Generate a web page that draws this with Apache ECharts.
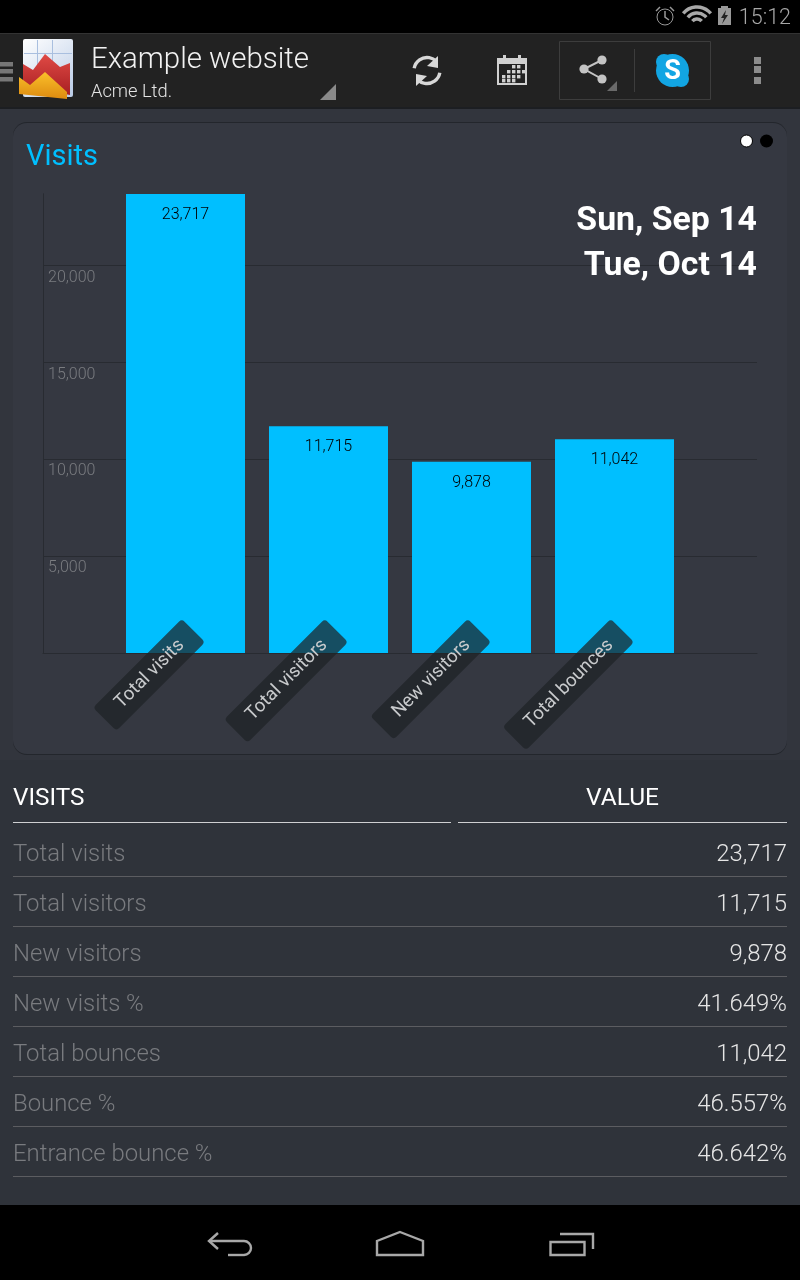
<!DOCTYPE html>
<html>
<head>
<meta charset="utf-8">
<title>Visits</title>
<script src="https://cdn.jsdelivr.net/npm/echarts@6/dist/echarts.min.js"></script>
<style>
html,body{margin:0;padding:0;background:#2f333a;}
#main{width:800px;height:1280px;}
</style>
</head>
<body>
<div id="main"></div>
<script>
var categories = ['Total visits', 'Total visitors', 'New visitors', 'Total bounces'];
var visitValues = [23717, 11715, 9878, 11042];
var tableLabels = ['Total visits', 'Total visitors', 'New visitors', 'New visits %', 'Total bounces', 'Bounce %', 'Entrance bounce %'];
var tableValues = ['23,717', '11,715', '9,878', '41.649%', '11,042', '46.557%', '46.642%'];
var dateLines = ['Sun, Sep 14', 'Tue, Oct 14'];

var FONT = 'Roboto, sans-serif';
var maxValue = Math.max.apply(null, visitValues);

function txt(text, x, y, size, fill, weight, align) {
    return {
        type: 'text', z: 1,
        style: {
            text: text, x: x, y: y, fill: fill,
            font: (weight || 400) + ' ' + size + 'px ' + FONT,
            textAlign: align || 'left', textVerticalAlign: 'middle'
        }
    };
}
function box(x, y, w, h, fill, r, z) {
    return { type: 'rect', z: z === undefined ? -1 : z, shape: { x: x, y: y, width: w, height: h, r: r || 0 }, style: { fill: fill } };
}
function poly(points, fill) {
    return { type: 'polygon', z: 1, shape: { points: points }, style: { fill: fill } };
}
function pline(points, color, width) {
    return { type: 'polyline', z: 1, shape: { points: points }, style: { stroke: color, lineWidth: width, fill: 'none' } };
}
function arc(cx, cy, r, a0, a1, color, width) {
    return {
        type: 'arc', z: 1,
        shape: { cx: cx, cy: cy, r: r, startAngle: a0 * Math.PI / 180, endAngle: a1 * Math.PI / 180 },
        style: { stroke: color, lineWidth: width, fill: 'none' }
    };
}
function dot(cx, cy, r, fill, stroke) {
    return { type: 'circle', z: 1, shape: { cx: cx, cy: cy, r: r }, style: { fill: fill, stroke: stroke || 'none', lineWidth: 1 } };
}
function square(x, y, w, fill) {
    return box(x, y, w, w, fill, 0, 1);
}

var graphics = [];

// screen + bars
graphics.push(box(0, 109, 800, 651, '#32353d'));
graphics.push(box(0, 0, 800, 33, '#000000'));
graphics.push(box(0, 33, 800, 74, '#222222'));
graphics.push(box(0, 33, 800, 1, '#333333'));
graphics.push(box(0, 107, 800, 2, '#1c1e22'));
graphics.push(box(0, 1205, 800, 75, '#000000'));

// card
graphics.push(box(13, 122, 774, 633, '#23262c', 14));
graphics.push(box(13, 123, 774, 631, '#353841', 14));

// status bar
graphics.push(dot(665, 17, 8, 'none', '#999999'));
graphics.push(pline([[665, 11], [665, 17], [669, 20]], '#999999', 1.5));
graphics.push(pline([[656, 11], [660, 7]], '#999999', 1.5));
graphics.push(pline([[670, 7], [674, 11]], '#999999', 1.5));
[6, 12, 18].forEach(function (r) {
    graphics.push(arc(697, 25, r, 220, 320, '#a8a8a8', 3.4));
});
graphics.push(box(721, 6, 7, 2, '#999999', 0, 1));
graphics.push(poly([[718, 8], [731, 8], [731, 25], [718, 25]], '#999999'));
graphics.push(poly([[726, 10], [721, 18], [724, 18], [722, 24], [728, 15], [725, 15]], '#222222'));
graphics.push(txt('15:12', 791, 19, 21.5, '#a8a8a8', 300, 'right'));

// action bar: drawer, logo, titles
graphics.push(box(0, 62, 13, 4.5, '#777777', 0, 1));
graphics.push(box(0, 69, 13, 4.5, '#777777', 0, 1));
graphics.push(box(0, 77, 13, 4.5, '#777777', 0, 1));

graphics.push({
    type: 'rect', z: 1, shape: { x: 23, y: 39, width: 50, height: 58, r: 2 },
    style: { fill: { type: 'linear', x: 0, y: 0, x2: 1, y2: 1, colorStops: [{ offset: 0, color: '#ffffff' }, { offset: 1, color: '#b9cbe6' }] } }
});
graphics.push(box(37, 40, 1, 25, '#a9bfdf', 0, 1));
graphics.push(box(52, 40, 1, 25, '#a9bfdf', 0, 1));
graphics.push(box(24, 53, 48, 1, '#a9bfdf', 0, 1));
graphics.push({
    type: 'polygon', z: 1, shape: { points: [[23, 64], [33, 70], [45, 54], [60, 67], [70, 63], [70, 95], [23, 85]] },
    style: { fill: { type: 'linear', x: 0, y: 0, x2: 0, y2: 1, colorStops: [{ offset: 0, color: '#e04a45' }, { offset: 1, color: '#a81f22' }] } }
});
graphics.push({
    type: 'polygon', z: 1, shape: { points: [[19, 77], [30, 85], [45, 72], [67, 92], [67, 99], [19, 94]] },
    style: { fill: { type: 'linear', x: 0, y: 0, x2: 0, y2: 1, colorStops: [{ offset: 0, color: '#fbc02a' }, { offset: 1, color: '#dc8a10' }] } }
});

graphics.push(txt('Example website', 91, 61, 29.4, '#f2f2f2', 300));
graphics.push(txt('Acme Ltd.', 91, 92, 18.3, '#e4e4e4', 300));
graphics.push(poly([[320, 100], [336, 100], [336, 84]], '#8a8a8a'));

// refresh
graphics.push(arc(427, 70.5, 13, 190, 315, '#d8d8d8', 3.4));
graphics.push(arc(427, 70.5, 13, 10, 135, '#d8d8d8', 3.4));
graphics.push(poly([[438, 56], [438, 68], [427, 66]], '#d8d8d8'));
graphics.push(poly([[416, 86], [416, 74], [427, 76]], '#d8d8d8'));

// calendar
graphics.push({ type: 'rect', z: 1, shape: { x: 498, y: 59, width: 28, height: 25 }, style: { fill: 'none', stroke: '#d0d0d0', lineWidth: 2 } });
graphics.push(box(497, 59, 30, 5, '#d0d0d0', 0, 1));
graphics.push(box(503, 55, 3, 6, '#d0d0d0', 0, 1));
graphics.push(box(518, 55, 3, 6, '#d0d0d0', 0, 1));
[[512, 65], [517, 65], [507, 70], [512, 70], [517, 70], [522, 70], [502, 75], [507, 75], [512, 75], [517, 75], [502, 79], [507, 79], [512, 79]].forEach(function (p) {
    graphics.push(square(p[0], p[1], 3.4, '#d0d0d0'));
});

// share group
graphics.push({ type: 'rect', z: 1, shape: { x: 559.5, y: 41.5, width: 151, height: 58 }, style: { fill: 'none', stroke: '#3d3d3d', lineWidth: 1 } });
graphics.push(pline([[602, 60], [584, 69], [602, 79]], '#c4c4c4', 2));
graphics.push(dot(602, 60, 4.6, '#c4c4c4'));
graphics.push(dot(584, 69, 4.6, '#c4c4c4'));
graphics.push(dot(602, 79, 4.6, '#c4c4c4'));
graphics.push(poly([[607, 91], [617, 91], [617, 81]], '#6a6a6a'));
graphics.push(box(634, 49, 1, 43, '#3d3d3d', 0, 1));
graphics.push(dot(664, 62, 8, '#12a5e3'));
graphics.push(dot(681, 79, 8, '#12a5e3'));
graphics.push(dot(672.5, 70.5, 16.5, '#12a5e3'));
graphics.push(txt('S', 672.5, 72, 27, '#ffffff', 700, 'center'));

// overflow dots
graphics.push(square(754, 57, 7, '#8c8c8c'));
graphics.push(square(754, 66, 7, '#8c8c8c'));
graphics.push(square(754, 77, 7, '#8c8c8c'));

// pager dots
graphics.push(dot(746.5, 141, 6, '#ffffff', '#000000'));
graphics.push(dot(766.5, 141, 6.5, '#000000'));

// dates
graphics.push(txt(dateLines[0], 757, 221.5, 33.8, '#ffffff', 700, 'right'));
graphics.push(txt(dateLines[1], 757, 266.5, 33.8, '#ffffff', 700, 'right'));

// table
graphics.push(txt('VISITS', 13, 798.5, 24.3, '#ffffff', 400));
graphics.push(txt('VALUE', 622.5, 798.5, 24.5, '#ffffff', 400, 'center'));
graphics.push(box(13, 822, 438, 1, '#cfd0d2', 0, 0));
graphics.push(box(458, 822, 329, 1, '#cfd0d2', 0, 0));
tableLabels.forEach(function (label, i) {
    var y = 853 + i * 50;
    graphics.push(txt(label, 13, y + 2, 23.9, '#797b7f', 300));
    graphics.push(txt(tableValues[i], 787, y + 2, 23.9, '#e6e6e6', 300, 'right'));
    graphics.push(box(13, y + 23, 774, 1, '#5c5d61', 0, 0));
});

// nav bar
graphics.push(pline([[218, 1233], [209, 1241], [218, 1249]], '#a8a8a8', 2.4));
graphics.push(pline([[209, 1241], [244, 1241]], '#a8a8a8', 2.4));
graphics.push(arc(244, 1248, 7, -90, 90, '#a8a8a8', 2.4));
graphics.push(pline([[244, 1255], [228, 1255]], '#a8a8a8', 2.4));
graphics.push({ type: 'polygon', z: 1, shape: { points: [[400, 1232], [423, 1241], [423, 1255], [377, 1255], [377, 1241]] }, style: { fill: 'none', stroke: '#a8a8a8', lineWidth: 2.4 } });
graphics.push({ type: 'rect', z: 1, shape: { x: 550.5, y: 1242, width: 34, height: 13 }, style: { fill: 'none', stroke: '#a8a8a8', lineWidth: 2.4 } });
graphics.push(pline([[560, 1234], [593, 1234], [593, 1249]], '#a8a8a8', 2.4));

var myChart = echarts.init(document.getElementById('main'), null, { renderer: 'canvas' });

myChart.setOption({
    animation: false,
    backgroundColor: '#2f333a',
    title: {
        text: 'Visits', left: 26, top: 143,
        padding: 0,
        textStyle: { color: '#00bfff', fontSize: 29, fontWeight: 400, fontFamily: FONT }
    },
    graphic: { elements: graphics },
    grid: [
        // frame with the scale
        { left: 43, top: 193.8, width: 714, height: 459 },
        // band area of the bars
        { left: 114, top: 194, width: 572, height: 459 }
    ],
    xAxis: [
        {
            gridIndex: 0, type: 'value', min: 0, max: 1,
            axisLine: { show: true, onZero: false, lineStyle: { color: '#282b31', width: 1 } },
            axisTick: { show: false }, axisLabel: { show: false }, splitLine: { show: false }
        },
        {
            gridIndex: 1, type: 'category', data: categories,
            axisLine: { show: false }, axisTick: { show: false }, axisLabel: { show: false }
        }
    ],
    yAxis: [
        {
            gridIndex: 0, type: 'value', min: 0, max: maxValue, interval: 5000,
            axisLine: { show: true, lineStyle: { color: '#282b31', width: 1 } },
            axisTick: { show: false },
            splitLine: { show: true, showMaxLine: false, showMinLine: false, lineStyle: { color: '#282b31', width: 1 } },
            axisLabel: {
                inside: true, margin: 5, color: '#7a7c80', fontSize: 16, fontFamily: FONT, fontWeight: 300,
                verticalAlign: 'top', padding: [4, 0, 0, 0],
                showMinLabel: false, showMaxLabel: false,
                formatter: function (v) { return v.toLocaleString('en-US'); }
            }
        },
        { gridIndex: 1, type: 'value', min: 0, max: maxValue, show: false }
    ],
    series: [
        {
            type: 'bar', xAxisIndex: 1, yAxisIndex: 1, data: visitValues, barWidth: 119,
            itemStyle: { color: '#00bfff' }, silent: true,
            label: {
                show: true, position: 'insideTop', distance: 13, color: '#000000',
                fontSize: 16, fontFamily: FONT, fontWeight: 300,
                formatter: function (p) { return p.value.toLocaleString('en-US'); }
            }
        },
        {
            // rotated category tags, they hang over the foot of the bars
            type: 'scatter', xAxisIndex: 1, yAxisIndex: 1, z: 5, silent: true,
            symbolSize: 1, itemStyle: { color: 'rgba(0,0,0,0)', opacity: 1 },
            data: categories.map(function (c) { return [c, 0]; }),
            label: {
                show: true, position: 'inside', rotate: 45, align: 'right', verticalAlign: 'middle',
                offset: [21.5, -10.3],
                formatter: function (p) { return p.value[0]; },
                color: '#c8cacc', fontSize: 18.6, fontFamily: FONT, fontWeight: 400, lineHeight: 24,
                backgroundColor: 'rgba(30,35,38,0.72)', borderRadius: 4, padding: [4.5, 17, 4.5, 19]
            }
        }
    ]
});
</script>
</body>
</html>
